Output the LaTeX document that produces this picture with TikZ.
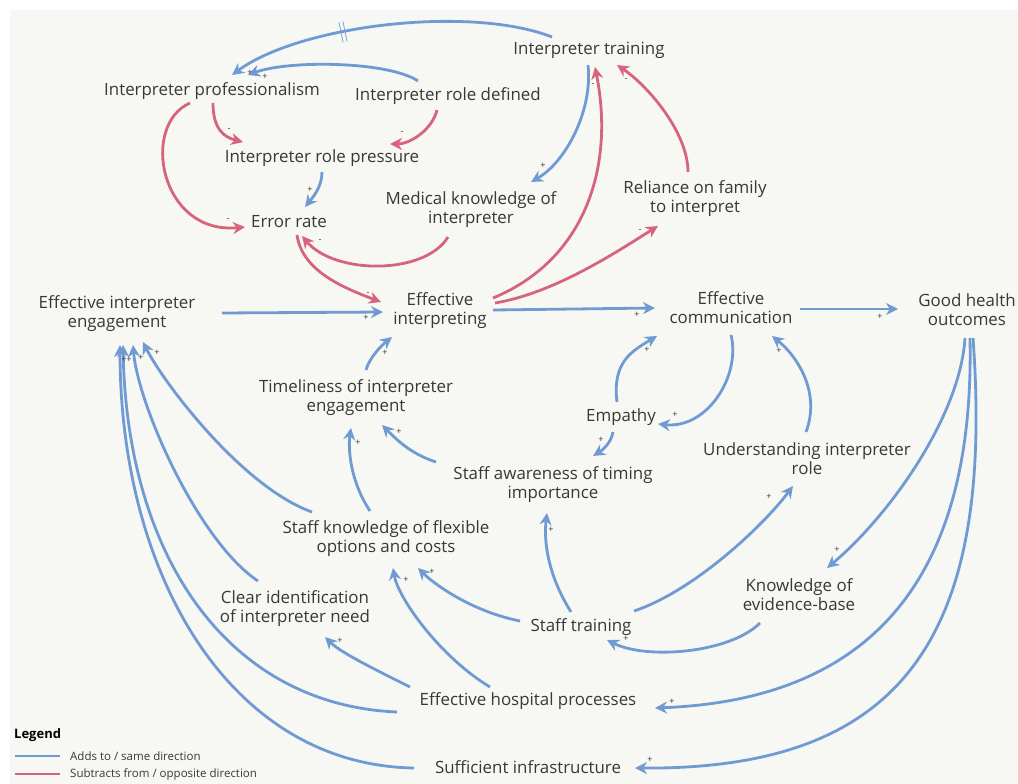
\documentclass[tikz,border=0pt]{standalone}
\usepackage{fontspec}
\setmainfont{Open Sans}
\usepackage{tikz}
\usetikzlibrary{arrows.meta}
\definecolor{addblue}{HTML}{6F9BD2}
\definecolor{subred}{HTML}{D6647D}
\definecolor{inkgray}{HTML}{383838}
\definecolor{paper}{HTML}{F7F7F4}
\tikzset{
var/.style={align=center, text=inkgray, inner sep=1pt, font=\fontsize{16.9}{19}\selectfont}, % every variable of the loop
addlink/.style={draw=addblue, line width=2.8pt, -{Stealth[length=12pt,width=12pt]}}, % adds to / same direction
sublink/.style={draw=subred, line width=2.8pt, -{Stealth[length=12pt,width=12pt]}}, % subtracts from / opposite direction
sgn/.style={text=inkgray, inner sep=0pt, font=\fontsize{9}{9}\selectfont}, % polarity of a link
}
\begin{document}
\begin{tikzpicture}[x=1pt,y=-1pt]
\useasboundingbox (0,0) rectangle (1018,784);
\fill[white] (0,0) rectangle (1018,784);
\fill[paper] (10,10) rectangle (1018,784);

% variables
\node[var] (itrain) at (589,50) {Interpreter training};
\node[var] (iprof) at (212,91) {Interpreter professionalism};
\node[var] (irole) at (448,96) {Interpreter role defined};
\node[var] (ipress) at (322,158) {Interpreter role pressure};
\node[var] (medk) at (471,210) {Medical knowledge of\\interpreter};
\node[var] (relfam) at (695,199) {Reliance on family\\to interpret};
\node[var] (err) at (289,222) {Error rate};
\node[var] (effint) at (440,311) {Effective\\interpreting};
\node[var] (effeng) at (117,314) {Effective interpreter\\engagement};
\node[var] (effcom) at (731,308) {Effective\\communication};
\node[var] (health) at (967,310) {Good health\\outcomes};
\node[var] (timely) at (356,398) {Timeliness of interpreter\\engagement};
\node[var] (empathy) at (621,417) {Empathy};
\node[var] (undrole) at (807,459) {Understanding interpreter\\role};
\node[var] (aware) at (553,485) {Staff awareness of timing\\importance};
\node[var] (sknow) at (386,539) {Staff knowledge of flexible\\options and costs};
\node[var] (clearid) at (295,609) {Clear identification\\of interpreter need};
\node[var] (evid) at (799,595) {Knowledge of\\evidence-base};
\node[var] (strain) at (581,627) {Staff training};
\node[var] (hosp) at (528,701) {Effective hospital processes};
\node[var] (infra) at (528,767) {Sufficient infrastructure};

% links (top part)
\draw[addlink] ([shift={(-37,-13)}]itrain.center) .. controls +(-82,-32) and +(68,-50) .. ([shift={(20,-16)}]iprof.center)
  node[pos=.62, sloped, text=addblue, inner sep=0pt, font=\fontsize{20}{20}\selectfont] {$\|$};
\draw[addlink] ([shift={(-30,-15)}]irole.center) .. controls +(-30,-20) and +(40,-15) .. ([shift={(36,-16)}]iprof.center);
\draw[sublink] ([shift={(1,12)}]iprof.center) .. controls +(0,25) and +(-20,-5) .. ([shift={(-79,-16)}]ipress.center);
\draw[sublink] ([shift={(-11,14)}]irole.center) .. controls +(-5,20) and +(20,0) .. ([shift={(68,-14)}]ipress.center);
\draw[sublink] ([shift={(-22,12)}]iprof.center) .. controls +(-50,22) and +(-85,8) .. ([shift={(-44,5)}]err.center);
\draw[addlink] ([shift={(0,14)}]ipress.center) .. controls +(0,15) and +(8,-10) .. ([shift={(16,-15)}]err.center);
\draw[sublink] ([shift={(-23,27)}]medk.center) .. controls +(-23,38) and +(33,39) .. ([shift={(13,14)}]err.center);
\draw[addlink] ([shift={(-1,15)}]itrain.center) .. controls +(5,45) and +(35,-20) .. ([shift={(60,-28)}]medk.center);
\draw[sublink] ([shift={(53,-13)}]effint.center) .. controls +(92,-38) and +(20,100) .. ([shift={(6,17)}]itrain.center);
\draw[sublink] ([shift={(-7,-27)}]relfam.center) .. controls +(0,-40) and +(30,20) .. ([shift={(28,15)}]itrain.center);
\draw[sublink] ([shift={(55,-8)}]effint.center) .. controls +(60,-10) and +(-40,25) .. ([shift={(-37,27)}]relfam.center);
\draw[sublink] ([shift={(8,13)}]err.center) .. controls +(5,35) and +(-40,-15) .. ([shift={(-59,-9)}]effint.center);

% links (middle row)
\draw[addlink] ([shift={(105,-1)}]effeng.center) -- ([shift={(-57,1)}]effint.center);
\draw[addlink] ([shift={(53,-1)}]effint.center) -- ([shift={(-76,0)}]effcom.center);
\draw[addlink] ([shift={(69,1)}]effcom.center) -- ([shift={(-69,-1)}]health.center);
\draw[addlink] ([shift={(10,-28)}]timely.center) .. controls +(3,-12) and +(-10,8) .. ([shift={(-48,26)}]effint.center);
\draw[addlink] ([shift={(-4,-15)}]empathy.center) .. controls +(-5,-40) and +(-25,15) .. ([shift={(-74,28)}]effcom.center);
\draw[addlink] ([shift={(0,27)}]effcom.center) .. controls +(10,40) and +(50,5) .. ([shift={(37,7)}]empathy.center);
\draw[addlink] ([shift={(-8,15)}]empathy.center) .. controls +(-2,12) and +(8,-5) .. ([shift={(40,-29)}]aware.center);
\draw[addlink] ([shift={(-1,-27)}]undrole.center) .. controls +(15,-40) and +(25,20) .. ([shift={(41,28)}]effcom.center);
\draw[addlink] ([shift={(-117,-23)}]aware.center) .. controls +(-25,-8) and +(15,15) .. ([shift={(26,27)}]timely.center);
\draw[addlink] ([shift={(-16,-28)}]sknow.center) .. controls +(-20,-30) and +(-3,20) .. ([shift={(-5,30)}]timely.center);

% links into effective interpreter engagement
\draw[addlink] ([shift={(-74,-27)}]sknow.center) .. controls +(-70,-25) and +(20,40) .. ([shift={(26,28)}]effeng.center);
\draw[addlink] ([shift={(-37,-28)}]clearid.center) .. controls +(-60,-40) and +(5,60) .. ([shift={(16,31)}]effeng.center);
\draw[addlink] ([shift={(-131,11)}]hosp.center) .. controls +(-167,-7) and +(4,215) .. ([shift={(6,31)}]effeng.center);
\draw[addlink] ([shift={(-114,1)}]infra.center) .. controls +(-184,-3) and +(0,230) .. ([shift={(3,31)}]effeng.center);

% links (lower part)
\draw[addlink] ([shift={(-10,-15)}]strain.center) .. controls +(-25,-40) and +(-3,25) .. ([shift={(-6,28)}]aware.center);
\draw[addlink] ([shift={(53,-16)}]strain.center) .. controls +(60,-20) and +(-30,40) .. ([shift={(-14,27)}]undrole.center);
\draw[addlink] ([shift={(-61,-6)}]strain.center) .. controls +(-50,-10) and +(15,15) .. ([shift={(32,29)}]sknow.center);
\draw[addlink] ([shift={(-39,28)}]evid.center) .. controls +(-30,30) and +(40,20) .. ([shift={(26,13)}]strain.center);
\draw[addlink] ([shift={(-2,28)}]health.center) .. controls +(-5,80) and +(60,-50) .. ([shift={(28,-27)}]evid.center);
\draw[addlink] ([shift={(3,28)}]health.center) .. controls +(5,242) and +(215,-8) .. ([shift={(127,7)}]hosp.center);
\draw[addlink] ([shift={(6,28)}]health.center) .. controls +(22,302) and +(265,2) .. ([shift={(107,1)}]infra.center);
\draw[addlink] ([shift={(-38,-14)}]hosp.center) .. controls +(-50,-30) and +(5,30) .. ([shift={(7,29)}]sknow.center);
\draw[addlink] ([shift={(-118,-14)}]hosp.center) .. controls +(-40,-20) and +(15,15) .. ([shift={(30,28)}]clearid.center);

% polarities
\foreach \x/\y/\s [count=\i] in {250/73/+, 265/77/+, 229/130/-, 402/133/-, 228/220/-, 310/190/+,
  320/241/-, 543/166/+, 593/85/-, 626/80/-, 640/231/-, 368/294/-, 366/318/+, 637/315/+, 880/317/+,
  385/353/+, 647/350/+, 675/415/+, 601/440/+, 779/351/+, 399/432/+, 358/443/+, 157/353/+, 141/358/+,
  129/360/+, 124/360/+, 551/530/+, 769/497/+, 432/572/+, 626/639/+, 837/550/+, 672/702/+, 650/760/+,
  406/580/+, 340/641/+}
  \node[sgn] (s\i) at (\x,\y) {\s};

% legend
\node[anchor=west, inner sep=0pt, font=\bfseries\fontsize{13}{13}\selectfont] (legend) at (14,735) {Legend};
\coordinate (adda) at (15,756);
\coordinate (addb) at (60,756);
\draw[addblue, line width=1.5pt] (adda) -- (addb);
\node[anchor=west, inner sep=0pt, text=inkgray, font=\fontsize{11.5}{12}\selectfont] (addtxt) at (70,756) {Adds to / same direction};
\coordinate (suba) at (15,774);
\coordinate (subb) at (60,774);
\draw[subred, line width=1.5pt] (suba) -- (subb);
\node[anchor=west, inner sep=0pt, text=inkgray, font=\fontsize{11.5}{12}\selectfont] (subtxt) at (70,774) {Subtracts from / opposite direction};
\end{tikzpicture}
\end{document}
